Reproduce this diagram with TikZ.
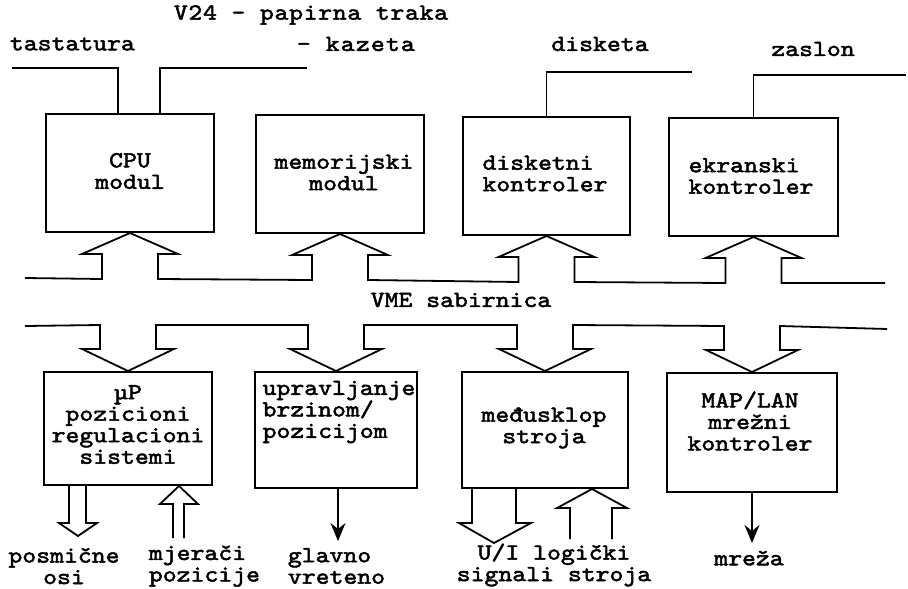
\documentclass[tikz,border=0pt]{standalone}
\usepackage{fontspec}
\setmonofont{lmmono10-regular.otf}[FakeBold=2.2,FakeStretch=1.15]
\usetikzlibrary{calc,arrows.meta}
\begin{document}
\begin{tikzpicture}[x=1pt,y=-1pt,line width=1.8pt,line join=miter,
  font=\ttfamily\fontsize{23}{21.5}\selectfont,
  every node/.style={inner sep=0pt},
  box/.style={draw,line width=2pt},
  upbus/.style={insert path={-- ($(#1.south)+(-28,46)$) -- ($(#1.south)+(-28,21)$) -- ($(#1.south)+(-48,21)$) -- (#1.south) -- ($(#1.south)+(48,21)$) -- ($(#1.south)+(28,21)$) -- ($(#1.south)+(28,46)$)}},
  downbus/.style={insert path={-- ($(#1.north)+(-28,-46)$) -- ($(#1.north)+(-28,-22)$) -- ($(#1.north)+(-46,-22)$) -- (#1.north) -- ($(#1.north)+(46,-22)$) -- ($(#1.north)+(28,-22)$) -- ($(#1.north)+(28,-46)$)}},
  thinarr/.style={-{Stealth[length=18pt,width=15pt,inset=6pt]},line width=1.6pt}
]
\useasboundingbox (0,0) rectangle (908,589);

% top boxes
\node[box,minimum width=168pt,minimum height=118pt] (cpu) at (130,173) {};
\node[box,minimum width=168pt,minimum height=118pt] (mem) at (340,174) {};
\node[box,minimum width=167pt,minimum height=118pt] (disk) at (546.5,176) {};
\node[box,minimum width=169pt,minimum height=118pt] (ekran) at (753.5,177) {};
% bottom boxes
\node[box,minimum width=168pt,minimum height=113pt] (up) at (128,428.5) {};
\node[box,minimum width=162pt,minimum height=116pt] (upr) at (336,430) {};
\node[box,minimum width=166pt,minimum height=116pt] (med) at (545,430) {};
\node[box,minimum width=170pt,minimum height=119pt] (map) at (752,432.5) {};

% box texts
\node[align=center] (cpu-t) at (130,171) {CPU\\modul};
\node[align=center] (mem-t) at (344,172.5) {memorijski\\modul};
\node[align=left] (disk-t) at (545,173.5) {disketni\\kontroler};
\node[align=left] (ekran-t) at (751,176) {ekranski\\kontroler};
\node[align=center] (up-t) at (128,424.5) {µP\\pozicioni\\regulacioni\\sistemi};
\node[align=left] (upr-t) at (339,412) {upravljanje\\brzinom/\\pozicijom};
\node[align=center] (med-t) at (544,428) {međusklop\\stroja};
\node[align=center] (map-t) at (750,421) {MAP/LAN\\mrežni\\kontroler};

% top labels
\node[anchor=west] (v24) at (173,15) {\addfontfeatures{LetterSpace=3}V24 - papirna traka};
\node[anchor=west] (kaz) at (296,44) {\addfontfeatures{LetterSpace=5}- kazeta};
\node[anchor=west] (tas) at (9,44) {tastatura};
\node (dsk) at (600,44) {disketa};
\node (zas) at (813,49) {zaslon};

% top lines
\coordinate (tasL) at (12,68);
\coordinate (v24R) at (307,68);
\coordinate (diskR) at (692,72);
\coordinate (zasR) at (906,75);
\draw (tasL) -| ($(cpu.north)+(-12,0)$);
\draw ($(cpu.north)+(30,0)$) |- (v24R);
\draw (disk.north) |- (diskR);
\draw (ekran.north) |- (zasR);

% bus
\coordinate (busUL) at (25,278);
\coordinate (busUR) at (885,283);
\coordinate (busLL) at (25,326);
\coordinate (busLR) at (887,329);
\draw (busUL) [upbus=cpu] [upbus=mem] [upbus=disk] [upbus=ekran] -- (busUR);
\draw (busLL) [downbus=up] [downbus=upr] [downbus=med] [downbus=map] -- (busLR);
\node (vme) at (461,300) {VME sabirnica};

% bottom arrows
\coordinate (posS) at ($(up.south west)+(26,0)$);
\draw (posS) -- ++(0,37) -- ++(-10,0) -- ++(19,13) -- ++(19,-13) -- ++(-11,0) -- ++(0,-37);
\coordinate (mjT) at ($(up.south)+(51,0)$);
\draw ($(mjT)+(-6,52)$) -- ($(mjT)+(-6,18)$) -- ($(mjT)+(-19,18)$) -- (mjT) -- ($(mjT)+(19,18)$) -- ($(mjT)+(5,18)$) -- ($(mjT)+(5,52)$);
\coordinate (glS) at ($(upr.south)+(2,0)$);
\coordinate (glE) at ($(glS)+(0,52)$);
\draw[thinarr] (glS) -- (glE);
\coordinate (uiS) at ($(med.south west)+(11,0)$);
\draw (uiS) -- ++(0,34) -- ++(-13,0) -- ++(35,20) -- ++(37,-20) -- ++(-15,0) -- ++(0,-34);
\coordinate (uiT) at ($(med.south)+(47,0)$);
\draw ($(uiT)+(-22,50)$) -- ($(uiT)+(-22,19)$) -- ($(uiT)+(-35,19)$) -- (uiT) -- ($(uiT)+(35,19)$) -- ($(uiT)+(20,19)$) -- ($(uiT)+(20,50)$);
\coordinate (mrE) at ($(map.south)+(0,50)$);
\draw[thinarr] (map.south) -- (mrE);

% bottom labels
\node[align=center] (pos) at (64,566) {posmične\\osi};
\node[align=left,anchor=west] (mj) at (148,566) {mjerači\\pozicije};
\node[align=left,anchor=west] (gl) at (287,566) {glavno\\vreteno};
\node[align=center] (ui) at (554,565) {U/I logički\\signali stroja};
\node (mr) at (749,558) {mreža};
\end{tikzpicture}
\end{document}
